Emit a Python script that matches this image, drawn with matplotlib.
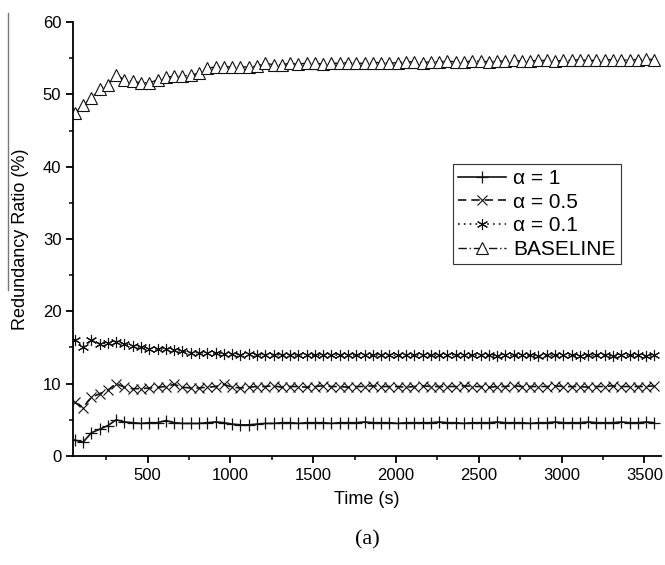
import numpy as np
import matplotlib
matplotlib.use("Agg")
import matplotlib.pyplot as plt
from matplotlib.lines import Line2D
from matplotlib.ticker import MultipleLocator

plt.rcParams['font.family'] = ['Liberation Sans', 'DejaVu Sans']

# sample times (s), one point every 50 s
time = np.arange(60, 3601, 50)

alpha_1 = [2.2, 1.9, 3.2, 3.7, 4.2, 5.0, 4.7, 4.6, 4.5, 4.6,
           4.6, 4.9, 4.6, 4.5, 4.5, 4.5, 4.6, 4.7, 4.6, 4.4,
           4.3, 4.3, 4.4, 4.5, 4.5, 4.6, 4.6, 4.5, 4.6, 4.6,
           4.6, 4.5, 4.6, 4.6, 4.6, 4.7, 4.6, 4.6, 4.6, 4.5,
           4.6, 4.6, 4.6, 4.6, 4.7, 4.6, 4.6, 4.5, 4.6, 4.6,
           4.6, 4.7, 4.6, 4.6, 4.6, 4.5, 4.6, 4.6, 4.7, 4.6,
           4.6, 4.6, 4.7, 4.6, 4.6, 4.6, 4.7, 4.6, 4.6, 4.7,
           4.6]

alpha_05 = [7.4, 6.7, 8.1, 8.6, 9.1, 10.0, 9.5, 9.3, 9.3, 9.4,
            9.5, 9.6, 9.9, 9.5, 9.4, 9.4, 9.5, 9.6, 9.9, 9.5,
            9.4, 9.5, 9.6, 9.6, 9.7, 9.5, 9.6, 9.6, 9.5, 9.6,
            9.7, 9.6, 9.6, 9.5, 9.6, 9.6, 9.7, 9.6, 9.6, 9.6,
            9.5, 9.6, 9.7, 9.6, 9.6, 9.6, 9.6, 9.7, 9.6, 9.6,
            9.5, 9.6, 9.6, 9.7, 9.6, 9.6, 9.6, 9.6, 9.7, 9.6,
            9.6, 9.6, 9.5, 9.6, 9.6, 9.7, 9.6, 9.6, 9.6, 9.6,
            9.7]

alpha_01 = [16.0, 15.0, 16.0, 15.5, 15.6, 15.8, 15.5, 15.2, 15.0, 14.8,
            14.8, 14.8, 14.6, 14.5, 14.3, 14.3, 14.2, 14.2, 14.1, 14.1,
            14.0, 14.1, 14.0, 14.0, 14.0, 14.0, 13.9, 14.0, 14.0, 13.9,
            14.0, 14.0, 13.9, 13.9, 14.0, 13.9, 13.9, 14.0, 13.9, 13.9,
            13.9, 14.0, 13.9, 13.9, 13.9, 13.9, 14.0, 13.9, 13.9, 13.9,
            13.9, 13.8, 13.9, 13.9, 13.9, 13.9, 13.8, 13.9, 13.9, 13.9,
            13.9, 13.8, 13.9, 13.9, 13.9, 13.8, 13.9, 13.9, 13.9, 13.8,
            13.9]

baseline = [47.4, 48.5, 49.5, 50.8, 51.3, 52.7, 52.0, 51.8, 51.6, 51.6,
            52.0, 52.4, 52.5, 52.5, 52.7, 52.9, 53.6, 53.8, 53.8, 53.8,
            53.8, 53.8, 53.9, 54.3, 54.1, 54.1, 54.3, 54.2, 54.3, 54.3,
            54.2, 54.3, 54.3, 54.4, 54.3, 54.3, 54.4, 54.4, 54.3, 54.4,
            54.5, 54.5, 54.4, 54.5, 54.5, 54.6, 54.5, 54.5, 54.6, 54.6,
            54.5, 54.6, 54.6, 54.7, 54.6, 54.6, 54.7, 54.7, 54.6, 54.7,
            54.7, 54.8, 54.7, 54.7, 54.8, 54.8, 54.7, 54.8, 54.8, 54.9,
            54.8]

labels = ["α = 1", "α = 0.5", "α = 0.1", "BASELINE"]

fig = plt.figure(figsize=(6.65, 5.65), dpi=100)
ax = fig.add_axes([0.110, 0.193, 0.884, 0.768])

lc = "#111111"
ax.plot(time, alpha_1, color=lc, lw=1.2, ls="-", marker="+", ms=8,
        mew=0.9, label=labels[0])
ax.plot(time, alpha_05, color=lc, lw=1.2, ls=(0, (5, 3)), marker="x", ms=7,
        mew=0.8, label=labels[1])
ax.plot(time, alpha_01, color=lc, lw=1.2, ls=(0, (1, 2.5)), marker=(6, 2, 0),
        ms=8, mew=0.8, label=labels[2])
ax.plot(time, baseline, color=lc, lw=1.0, ls=(0, (6, 2, 1, 2)), marker="^",
        ms=8, mew=0.8, mfc="white", label=labels[3])

ax.set_xlim(50, 3600)
ax.set_ylim(0, 60)
ax.xaxis.set_major_locator(MultipleLocator(500))
ax.xaxis.set_minor_locator(MultipleLocator(250))
ax.yaxis.set_major_locator(MultipleLocator(10))
ax.yaxis.set_minor_locator(MultipleLocator(5))
ax.set_xticks([500, 1000, 1500, 2000, 2500, 3000, 3500])

for s in ["top", "right"]:
    ax.spines[s].set_visible(False)
for s in ["left", "bottom"]:
    ax.spines[s].set_linewidth(1.3)
ax.tick_params(which="major", direction="out", length=5, width=1.3,
               labelsize=12, colors="black")
ax.tick_params(which="minor", direction="out", length=3, width=1.1)

ax.set_xlabel("Time (s)", fontsize=13, labelpad=6)
ax.set_ylabel("Redundancy Ratio (%)", fontsize=13, labelpad=10)

leg = ax.legend(loc="upper left", bbox_to_anchor=(0.646, 0.673), fontsize=15,
                handlelength=2.3, handletextpad=0.35, borderpad=0.25,
                borderaxespad=0, labelspacing=0.22, fancybox=False,
                framealpha=1, edgecolor="#333333")
leg.get_frame().set_linewidth(0.8)

fig.text(0.552, 0.044, "(a)", ha="center", va="center", fontsize=16,
         family="Liberation Serif")

# thin scan line on the left edge of the original
fig.add_artist(Line2D([8 / 665, 8 / 665], [1 - 13 / 565, 1 - 290 / 565],
                      color="#777777", lw=1.0))

fig.savefig("out.png", dpi=100)
